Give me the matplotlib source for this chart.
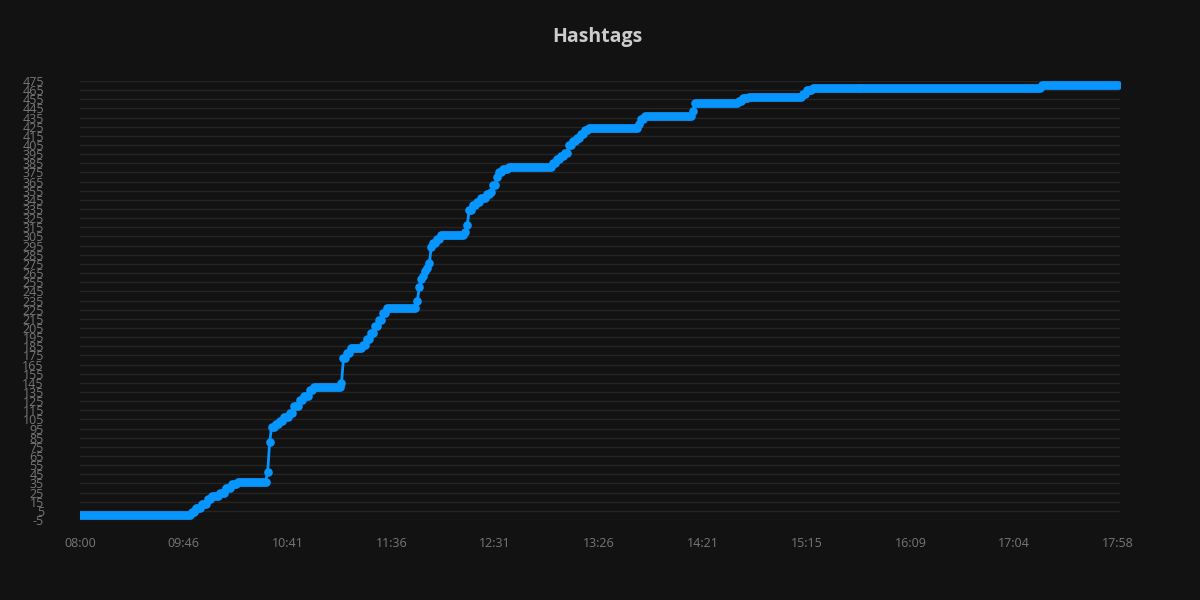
import numpy as np
import matplotlib
matplotlib.use('Agg')
import matplotlib.pyplot as plt

# cumulative hashtag count, stored as levels: point index where a level starts, and its value
level_start = [0, 56, 58, 61, 64, 66, 70, 73, 76, 79,
               94, 95, 96, 98, 100, 102, 105, 107, 110, 112, 115, 117,
               131, 132, 134, 136, 142, 144, 146, 148, 150, 152, 154,
               169, 170, 171, 172, 173, 174, 175, 176, 177, 179, 181,
               193, 194, 195, 197, 199, 201, 204, 206, 207, 209, 210, 212, 215,
               237, 239, 241, 243, 245, 247, 249, 251, 253, 255,
               280, 281, 283, 307, 308, 330, 332, 335, 362, 364, 367, 482]
level_value = [0, 4, 8, 13, 18, 21, 25, 30, 34, 37,
               47, 80, 97, 100, 103, 108, 112, 120, 126, 131, 137, 140,
               145, 172, 178, 183, 186, 193, 200, 207, 214, 221, 227,
               235, 250, 258, 262, 267, 271, 276, 294, 298, 302, 307,
               310, 318, 334, 339, 343, 347, 351, 354, 361, 370, 376, 379, 381,
               385, 390, 393, 396, 405, 409, 413, 417, 421, 424,
               428, 433, 437, 442, 451, 453, 456, 458, 461, 465, 467, 471]
n_points = 521

tick_labels = ['08:00', '09:46', '10:41', '11:36', '12:31', '13:26',
               '14:21', '15:15', '16:09', '17:04', '17:58']
y_ticks = list(range(-5, 476, 10))

runs = np.diff(level_start + [n_points])
counts = np.repeat(level_value, runs)
x = np.arange(n_points)

bg = '#121212'
blue = '#0796ff'

fig = plt.figure(figsize=(12, 6), dpi=100, facecolor=bg)
ax = fig.add_axes([80 / 1200, 1 - 520 / 600, 1040 / 1200, 439 / 600])
ax.set_facecolor(bg)

ax.plot(x, counts, color=blue, lw=2, marker='o', markersize=6.2,
        markeredgewidth=0, solid_joinstyle='round', zorder=3)

ax.set_ylim(-5, 475)
ax.set_xlim(0, 521)
ax.set_yticks(y_ticks)
ax.set_yticklabels([str(v) for v in y_ticks])
ax.set_xticks(np.arange(0, 521, 52))
ax.set_xticklabels(tick_labels)
ax.grid(axis='y', color='#252525', lw=1)
ax.set_axisbelow(True)
for s in ax.spines.values():
    s.set_visible(False)
ax.tick_params(axis='y', length=0, pad=26, labelsize=9, labelcolor='#777777')
ax.tick_params(axis='x', length=0, pad=12, labelsize=9, labelcolor='#777777')
for lbl in ax.get_xticklabels() + ax.get_yticklabels():
    lbl.set_family('Open Sans')

fig.text(597 / 1200, 1 - 37 / 600, 'Hashtags', ha='center', va='center',
         fontsize=14, fontweight='bold', color='#cccccc', family='Open Sans')

fig.savefig('out.png', dpi=100, facecolor=bg)
